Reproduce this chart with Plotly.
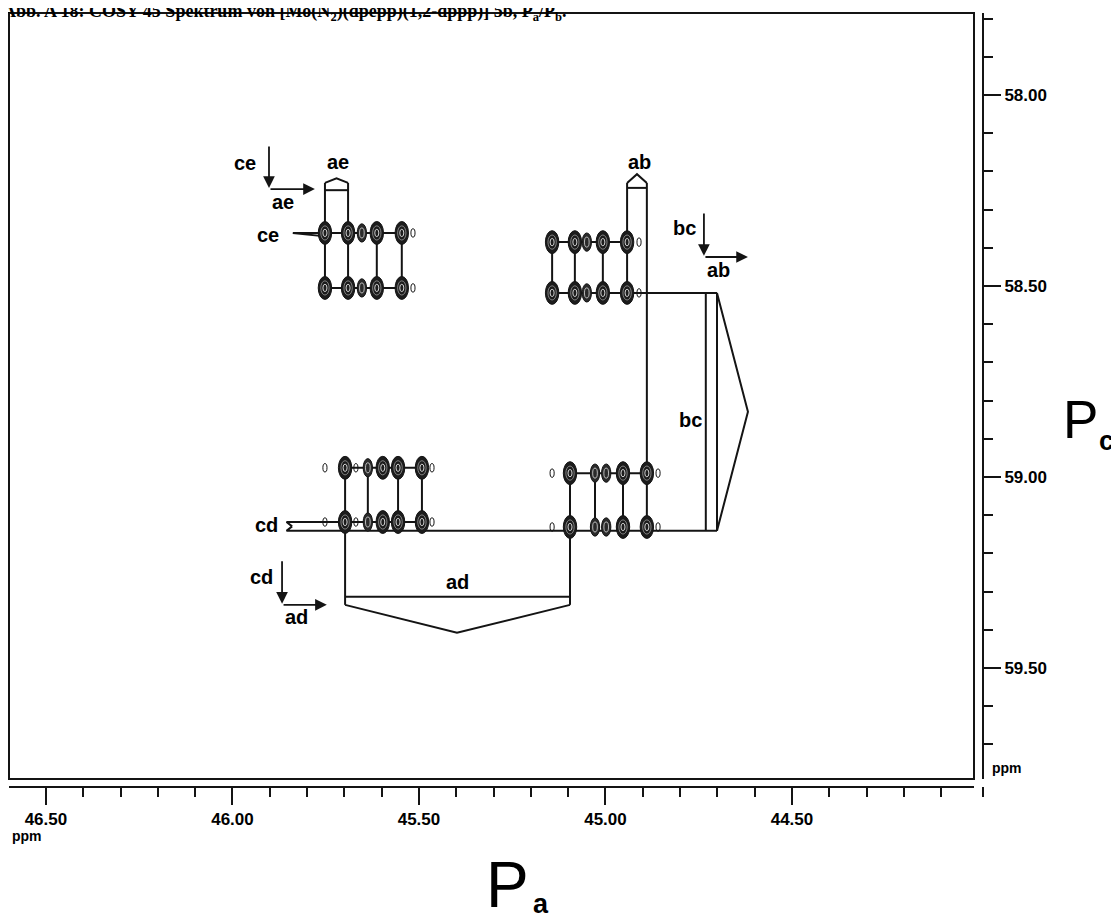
import plotly.graph_objects as go

# ── Axis calibration (ppm) ──────────────────────────────────
X_RANGE = [46.599, 44.012]      # Pa, reversed
Y_RANGE = [59.791, 57.785]      # Pc, reversed
MAJOR_DTICK = 0.5
MINOR_DTICK = 0.1

# ── Cross-peak multiplets (column shift Pa, row shift Pc, size) ──
ae_cols = [45.752, 45.690, 45.653, 45.613, 45.546, 45.516]
ae_size = ['L', 'L', 'M', 'L', 'L', 'S']
ae_rows = [58.361, 58.505]

ab_cols = [45.143, 45.082, 45.050, 45.007, 44.942, 44.910]
ab_size = ['L', 'L', 'M', 'L', 'L', 'S']
ab_rows = [58.385, 58.518]

cd_cols = [45.752, 45.698, 45.669, 45.637, 45.597, 45.556, 45.492, 45.465]
cd_size = ['S', 'L', 'S', 'M', 'L', 'L', 'L', 'S']
cd_rows = [58.976, 59.118]

bd_cols = [45.143, 45.095, 45.028, 44.998, 44.953, 44.889, 44.859]
bd_size = ['S', 'L', 'M', 'M', 'L', 'L', 'S']
bd_rows = [58.990, 59.131]

# ── Assignment brackets (ppm) ───────────────────────────────
ae_box = [58.249, 58.230, 58.218]      # bar, shoulder, apex
ab_box = [58.243, 58.230, 58.207]
ad_box = [59.314, 59.335, 59.408]
ad_apex_x = 45.398
bc_x = [44.731, 44.701, 44.618]        # inner, outer, apex
long_y = 59.141
ce_tip = 45.838
cd_tip = 45.840

# ── Labels ──────────────────────────────────────────────────
label_text = ['ce', 'ae', 'ae', 'ce', 'ab', 'bc', 'ab', 'bc', 'cd', 'cd', 'ad', 'ad']
label_x = [45.966, 45.865, 45.717, 45.905, 44.908, 44.787, 44.698, 44.773,
           45.908, 45.921, 45.398, 45.827]
label_y = [58.178, 58.280, 58.175, 58.366, 58.175, 58.348, 58.458, 58.851,
           59.126, 59.262, 59.275, 59.366]

# corner arrows: x of vertical, y top of vertical, y corner, x end of horizontal
corner_x = [45.902, 44.736, 45.867]
corner_top = [58.131, 58.306, 59.217]
corner_y = [58.246, 58.424, 59.335]
corner_end = [45.779, 44.618, 45.747]

INK = '#141414'
SIZES = {'L': (0.036, 0.060), 'M': (0.025, 0.048), 'S': (0.011, 0.022)}

W, H = 1119, 920
OFF = 8                      # default page margin around the figure div
L_M, R_M, T_M, B_M = 1, 144, 5, 141
PW = W - L_M - R_M
PH = H - T_M - B_M


def px_x(p):
    # page pixel -> paper fraction
    return (p - OFF - L_M) / PW


def px_y(p):
    return (H - B_M - (p - OFF)) / PH


fig = go.Figure()
shapes = []


def ellipse(cx, cy, w, h, **kw):
    d = dict(type='circle', xref='x', yref='y',
             x0=cx - w / 2, x1=cx + w / 2, y0=cy - h / 2, y1=cy + h / 2)
    d.update(kw)
    shapes.append(d)


NOFILL = 'rgba(0,0,0,0)'

# peaks drawn as stacked contour-like ellipses
for cols, sizes, rows in [(ae_cols, ae_size, ae_rows), (ab_cols, ab_size, ab_rows),
                          (cd_cols, cd_size, cd_rows), (bd_cols, bd_size, bd_rows)]:
    for y in rows:
        for x, s in zip(cols, sizes):
            w, h = SIZES[s]
            if s == 'S':
                ellipse(x, y, w, h, line=dict(color=INK, width=1), fillcolor=NOFILL)
            elif s == 'M':
                ellipse(x, y, w, h, line=dict(color=INK, width=1), fillcolor='#2a2a2a')
                ellipse(x, y, w * 0.5, h * 0.55, line=dict(color='#dddddd', width=0.8),
                        fillcolor=NOFILL)
            else:
                ellipse(x, y, w, h, line=dict(color=INK, width=1), fillcolor='#1c1c1c')
                ellipse(x, y, w * 0.62, h * 0.62, line=dict(color='#9a9a9a', width=0.8),
                        fillcolor=NOFILL)
                ellipse(x, y, w * 0.3, h * 0.32, line=dict(color='white', width=0.8),
                        fillcolor=NOFILL)

# ── Connector lines ─────────────────────────────────────────
segs = []


def seg(*pts):
    segs.append(pts)


# ae / ce multiplet
r1, r2 = ae_rows
seg((ce_tip, r1), (ae_cols[4], r1))
seg((ce_tip, r1), (ae_cols[0], r1 + 0.009))
seg((ae_cols[0], r2), (ae_cols[4], r2))
seg((ae_cols[0], ae_box[1]), (ae_cols[0], r2))
seg((ae_cols[1], ae_box[1]), (ae_cols[1], r2))
seg((ae_cols[3], r1), (ae_cols[3], r2))
seg((ae_cols[4], r1), (ae_cols[4], r2))
seg((ae_cols[0], ae_box[0]), (ae_cols[1], ae_box[0]))
seg((ae_cols[0], ae_box[1]), ((ae_cols[0] + ae_cols[1]) / 2, ae_box[2]), (ae_cols[1], ae_box[1]))

# ab multiplet
r1, r2 = ab_rows
seg((ab_cols[0], r1), (ab_cols[4], r1))
seg((ab_cols[0], r2), (bc_x[1], r2))
for c in (ab_cols[0], ab_cols[1], ab_cols[3]):
    seg((c, r1), (c, r2))
seg((ab_cols[4], ab_box[1]), (ab_cols[4], r2))
seg((bd_cols[5], ab_box[1]), (bd_cols[5], long_y))
seg((ab_cols[4], ab_box[0]), (bd_cols[5], ab_box[0]))
seg((ab_cols[4], ab_box[1]), ((ab_cols[4] + bd_cols[5]) / 2, ab_box[2]), (bd_cols[5], ab_box[1]))

# cd multiplet
r1, r2 = cd_rows
mid = (r2 + long_y) / 2
seg((cd_cols[1], r1), (cd_cols[6], r1))
seg((cd_tip, mid), (cd_tip + 0.015, r2), (cd_cols[6], r2))
seg((cd_tip, mid), (cd_tip + 0.015, long_y), (bc_x[1], long_y))
seg((cd_cols[1], r1), (cd_cols[1], ad_box[1]))
for c in (cd_cols[3], cd_cols[5], cd_cols[6]):
    seg((c, r1), (c, r2))

# bd multiplet
r1, r2 = bd_rows
seg((bd_cols[1], r1), (bd_cols[5], r1))
seg((bd_cols[1], r1), (bd_cols[1], ad_box[1]))
for c in (bd_cols[2], bd_cols[4]):
    seg((c, r1), (c, r2))

# ad bracket
seg((cd_cols[1], ad_box[0]), (bd_cols[1], ad_box[0]))
seg((cd_cols[1], ad_box[1]), (ad_apex_x, ad_box[2]), (bd_cols[1], ad_box[1]))

# bc bracket
top_bc = ab_rows[1]
seg((bc_x[0], top_bc), (bc_x[0], long_y))
seg((bc_x[1], top_bc), (bc_x[1], long_y))
seg((bc_x[1], top_bc), (bc_x[2], (top_bc + long_y) / 2), (bc_x[1], long_y))

lx, ly = [], []
for s in segs:
    for x, y in s:
        lx.append(x)
        ly.append(y)
    lx.append(None)
    ly.append(None)

fig.add_trace(go.Scatter(x=lx, y=ly, mode='lines', line=dict(color=INK, width=2),
                         hoverinfo='skip', showlegend=False))

# ── Text labels and corner arrows ───────────────────────────
LABEL_FONT = dict(family='Liberation Sans', size=20, color='black', weight='bold')
annotations = []
for t, x, y in zip(label_text, label_x, label_y):
    annotations.append(dict(x=x, y=y, xref='x', yref='y', text=t, showarrow=False,
                            font=LABEL_FONT))

for cx, ct, cy, ce in zip(corner_x, corner_top, corner_y, corner_end):
    annotations.append(dict(x=cx, y=cy - 0.003, ax=cx, ay=ct, xref='x', yref='y',
                            axref='x', ayref='y', text='', showarrow=True,
                            arrowhead=2, arrowsize=1.3, arrowwidth=1.8, arrowcolor=INK))
    annotations.append(dict(x=ce, y=cy, ax=cx, ay=cy, xref='x', yref='y',
                            axref='x', ayref='y', text='', showarrow=True,
                            arrowhead=2, arrowsize=1.3, arrowwidth=1.8, arrowcolor=INK))


def page_text(text, x, y, size, xa='center', ya='middle', bold=False, family='Liberation Sans'):
    f = dict(family=family, size=size, color='black')
    if bold:
        f['weight'] = 'bold'
    return dict(x=px_x(x), y=px_y(y), xref='paper', yref='paper', xanchor=xa, yanchor=ya,
                text=text, showarrow=False, font=f, borderpad=0)


# axis names, ppm units, caption
annotations += [
    page_text('P', 1080, 419, 53),
    page_text('c', 1106, 441, 27, bold=True),
    page_text('P', 507, 922, 64, ya='bottom'),
    page_text('a', 541, 920, 27, ya='bottom', bold=True),
    page_text('ppm', 11, 836, 14, xa='left', bold=True),
    page_text('ppm', 991, 768, 14, xa='left', bold=True),
    page_text('Abb. A 18: COSY 45 Spektrum von [Mo(N<sub>2</sub>)(dpepp)(1,2-dppp)] 5b, '
              'P<sub>a</sub>/P<sub>b</sub>.', 2, 25, 18, xa='left', ya='bottom', bold=True,
              family='Liberation Serif'),
]

# frame and y-axis extension
shapes.append(dict(type='rect', xref='x domain', yref='y domain', x0=0, x1=1, y0=0, y1=1,
                   line=dict(color=INK, width=2)))
shapes.append(dict(type='line', xref='paper', yref='paper', x0=1, x1=1,
                   y0=px_y(787), y1=px_y(797), line=dict(color=INK, width=2)))

TICK_FONT = dict(family='Liberation Sans', size=17, color='black', weight='bold')
axis_common = dict(showline=True, linewidth=2, linecolor=INK, ticks='outside',
                   ticklen=17, tickwidth=1.5, tickcolor=INK, dtick=MAJOR_DTICK, tick0=0,
                   tickformat='.2f', showgrid=False, zeroline=False, tickfont=TICK_FONT,
                   minor=dict(dtick=MINOR_DTICK, tick0=0, ticks='outside', ticklen=9,
                              tickwidth=1.5, tickcolor=INK, showgrid=False))

fig.update_layout(
    width=W, height=H,
    margin=dict(l=L_M, r=R_M, t=T_M, b=B_M),
    plot_bgcolor='white', paper_bgcolor='white',
    xaxis=dict(range=X_RANGE, domain=[0, px_x(974)], anchor='free', position=0,
               **axis_common),
    yaxis=dict(range=Y_RANGE, domain=[px_y(779), 1], anchor='free', position=1,
               side='right', **axis_common),
    shapes=shapes,
    annotations=annotations,
    showlegend=False,
)

fig.write_html("out.html")
